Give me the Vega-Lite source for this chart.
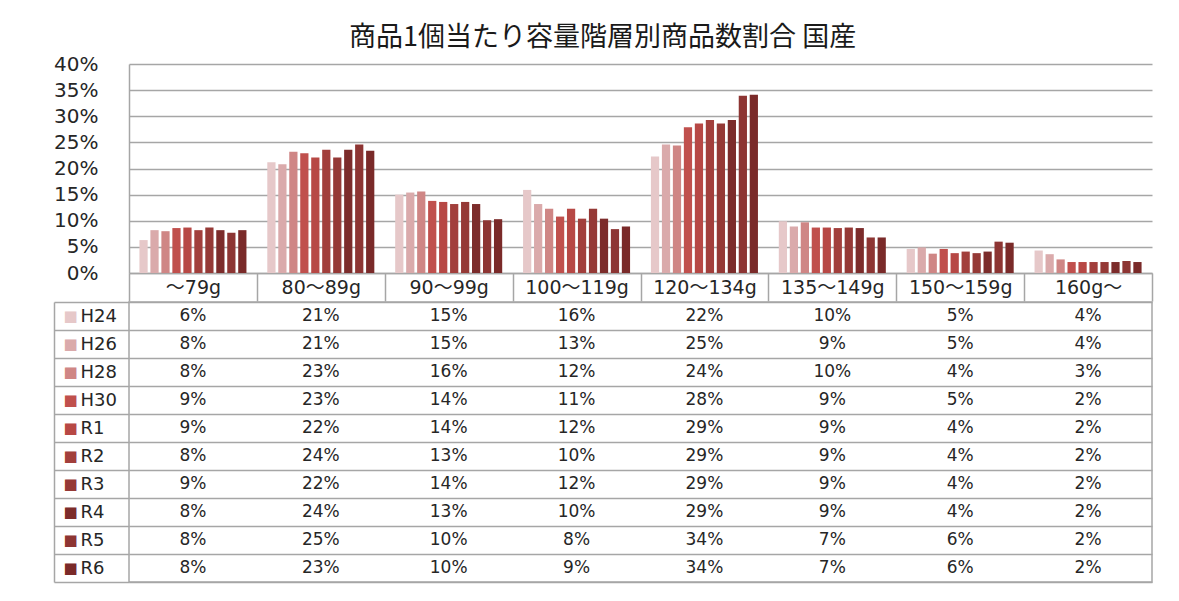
{
  "$schema": "https://vega.github.io/schema/vega-lite/v6.json",
  "background": "white",
  "padding": {"left": 52, "top": 24, "right": 29, "bottom": 10},
  "spacing": -10,
  "title": {
    "text": "商品1個当たり容量階層別商品数割合 国産",
    "font": "Noto Sans CJK JP",
    "fontSize": 27,
    "fontWeight": "normal",
    "color": "#1a1a1a",
    "anchor": "middle",
    "offset": 2
  },
  "data": {
    "values": [
      {"cat": "～79g", "period": "H24", "value": 0.063},
      {"cat": "～79g", "period": "H26", "value": 0.082},
      {"cat": "～79g", "period": "H28", "value": 0.080},
      {"cat": "～79g", "period": "H30", "value": 0.086},
      {"cat": "～79g", "period": "R1", "value": 0.087},
      {"cat": "～79g", "period": "R2", "value": 0.082},
      {"cat": "～79g", "period": "R3", "value": 0.087},
      {"cat": "～79g", "period": "R4", "value": 0.082},
      {"cat": "～79g", "period": "R5", "value": 0.077},
      {"cat": "～79g", "period": "R6", "value": 0.082},
      {"cat": "80～89g", "period": "H24", "value": 0.212},
      {"cat": "80～89g", "period": "H26", "value": 0.208},
      {"cat": "80～89g", "period": "H28", "value": 0.232},
      {"cat": "80～89g", "period": "H30", "value": 0.229},
      {"cat": "80～89g", "period": "R1", "value": 0.221},
      {"cat": "80～89g", "period": "R2", "value": 0.236},
      {"cat": "80～89g", "period": "R3", "value": 0.221},
      {"cat": "80～89g", "period": "R4", "value": 0.236},
      {"cat": "80～89g", "period": "R5", "value": 0.246},
      {"cat": "80～89g", "period": "R6", "value": 0.234},
      {"cat": "90～99g", "period": "H24", "value": 0.150},
      {"cat": "90～99g", "period": "H26", "value": 0.154},
      {"cat": "90～99g", "period": "H28", "value": 0.156},
      {"cat": "90～99g", "period": "H30", "value": 0.138},
      {"cat": "90～99g", "period": "R1", "value": 0.136},
      {"cat": "90～99g", "period": "R2", "value": 0.132},
      {"cat": "90～99g", "period": "R3", "value": 0.136},
      {"cat": "90～99g", "period": "R4", "value": 0.132},
      {"cat": "90～99g", "period": "R5", "value": 0.101},
      {"cat": "90～99g", "period": "R6", "value": 0.103},
      {"cat": "100～119g", "period": "H24", "value": 0.159},
      {"cat": "100～119g", "period": "H26", "value": 0.132},
      {"cat": "100～119g", "period": "H28", "value": 0.123},
      {"cat": "100～119g", "period": "H30", "value": 0.108},
      {"cat": "100～119g", "period": "R1", "value": 0.123},
      {"cat": "100～119g", "period": "R2", "value": 0.104},
      {"cat": "100～119g", "period": "R3", "value": 0.123},
      {"cat": "100～119g", "period": "R4", "value": 0.104},
      {"cat": "100～119g", "period": "R5", "value": 0.084},
      {"cat": "100～119g", "period": "R6", "value": 0.089},
      {"cat": "120～134g", "period": "H24", "value": 0.223},
      {"cat": "120～134g", "period": "H26", "value": 0.246},
      {"cat": "120～134g", "period": "H28", "value": 0.244},
      {"cat": "120～134g", "period": "H30", "value": 0.279},
      {"cat": "120～134g", "period": "R1", "value": 0.286},
      {"cat": "120～134g", "period": "R2", "value": 0.293},
      {"cat": "120～134g", "period": "R3", "value": 0.286},
      {"cat": "120～134g", "period": "R4", "value": 0.293},
      {"cat": "120～134g", "period": "R5", "value": 0.339},
      {"cat": "120～134g", "period": "R6", "value": 0.341},
      {"cat": "135～149g", "period": "H24", "value": 0.099},
      {"cat": "135～149g", "period": "H26", "value": 0.089},
      {"cat": "135～149g", "period": "H28", "value": 0.097},
      {"cat": "135～149g", "period": "H30", "value": 0.087},
      {"cat": "135～149g", "period": "R1", "value": 0.087},
      {"cat": "135～149g", "period": "R2", "value": 0.086},
      {"cat": "135～149g", "period": "R3", "value": 0.087},
      {"cat": "135～149g", "period": "R4", "value": 0.086},
      {"cat": "135～149g", "period": "R5", "value": 0.068},
      {"cat": "135～149g", "period": "R6", "value": 0.068},
      {"cat": "150～159g", "period": "H24", "value": 0.046},
      {"cat": "150～159g", "period": "H26", "value": 0.049},
      {"cat": "150～159g", "period": "H28", "value": 0.037},
      {"cat": "150～159g", "period": "H30", "value": 0.046},
      {"cat": "150～159g", "period": "R1", "value": 0.038},
      {"cat": "150～159g", "period": "R2", "value": 0.041},
      {"cat": "150～159g", "period": "R3", "value": 0.038},
      {"cat": "150～159g", "period": "R4", "value": 0.041},
      {"cat": "150～159g", "period": "R5", "value": 0.060},
      {"cat": "150～159g", "period": "R6", "value": 0.058},
      {"cat": "160g～", "period": "H24", "value": 0.043},
      {"cat": "160g～", "period": "H26", "value": 0.036},
      {"cat": "160g～", "period": "H28", "value": 0.026},
      {"cat": "160g～", "period": "H30", "value": 0.021},
      {"cat": "160g～", "period": "R1", "value": 0.021},
      {"cat": "160g～", "period": "R2", "value": 0.021},
      {"cat": "160g～", "period": "R3", "value": 0.021},
      {"cat": "160g～", "period": "R4", "value": 0.021},
      {"cat": "160g～", "period": "R5", "value": 0.023},
      {"cat": "160g～", "period": "R6", "value": 0.021}
    ]
  },
  "vconcat": [
    {
      "width": 1023,
      "height": 209,
      "view": {"stroke": null},
      "mark": {"type": "bar"},
      "encoding": {
        "x": {
          "field": "cat",
          "type": "nominal",
          "sort": ["～79g", "80～89g", "90～99g", "100～119g", "120～134g", "135～149g", "150～159g", "160g～"],
          "scale": {"paddingInner": 0, "paddingOuter": 0},
          "axis": {
            "title": null,
            "labelAngle": 0,
            "tickBand": "extent",
            "tickSize": 28,
            "tickColor": "#a6a6a6",
            "tickWidth": 1.5,
            "domainColor": "#a6a6a6",
            "domainWidth": 1.5,
            "labelPadding": -14,
            "labelBaseline": "middle",
            "labelFont": "DejaVu Sans, Noto Sans CJK JP",
            "labelFontSize": 19,
            "labelColor": "#262626",
            "minExtent": 28,
            "maxExtent": 28,
            "grid": false
          }
        },
        "xOffset": {
          "field": "period",
          "type": "nominal",
          "sort": ["H24", "H26", "H28", "H30", "R1", "R2", "R3", "R4", "R5", "R6"],
          "scale": {"paddingInner": 0.25, "paddingOuter": 0.95}
        },
        "y": {
          "field": "value",
          "type": "quantitative",
          "scale": {"domain": [0, 0.4]},
          "axis": {
            "title": null,
            "format": ".0%",
            "values": [0, 0.05, 0.1, 0.15, 0.2, 0.25, 0.3, 0.35, 0.4],
            "ticks": false,
            "labelPadding": 31,
            "labelFont": "DejaVu Sans",
            "labelFontSize": 20,
            "labelColor": "#262626",
            "domainColor": "#a6a6a6",
            "domainWidth": 1.5,
            "grid": true,
            "gridColor": "#a6a6a6",
            "gridWidth": 1.5
          }
        },
        "color": {
          "field": "period",
          "type": "nominal",
          "legend": null,
          "scale": {
            "domain": ["H24", "H26", "H28", "H30", "R1", "R2", "R3", "R4", "R5", "R6"],
            "range": ["#E6C8C9", "#DAAAAB", "#CF8685", "#C0504D", "#B74845", "#A23F3C", "#953936", "#7C2C2B", "#8D3533", "#7A2A29"]
          }
        }
      }
    },
    {
      "width": 1023,
      "height": 280,
      "view": {"stroke": "#a6a6a6", "strokeWidth": 1.5},
      "resolve": {"scale": {"y": "independent"}},
      "layer": [
        {
          "mark": {"type": "rect", "opacity": 0},
          "encoding": {
            "x": {
              "field": "cat",
              "type": "nominal",
              "sort": ["～79g", "80～89g", "90～99g", "100～119g", "120～134g", "135～149g", "150～159g", "160g～"],
              "scale": {"paddingInner": 0, "paddingOuter": 0},
              "axis": null
            },
            "y": {
              "field": "period",
              "type": "nominal",
              "sort": ["H24", "H26", "H28", "H30", "R1", "R2", "R3", "R4", "R5", "R6"],
              "scale": {"paddingInner": 0, "paddingOuter": 0},
              "axis": {
                "orient": "left",
                "offset": 75,
                "title": null,
                "ticks": false,
                "grid": false,
                "domain": true,
                "domainColor": "#a6a6a6",
                "domainWidth": 1.5,
                "labelExpr": "'■'",
                "labelAlign": "left",
                "labelPadding": -9,
                "labelFont": "DejaVu Sans",
                "labelFontSize": 15,
                "labelColor": {"expr": "datum.value=='H24'?'#E6C8C9':datum.value=='H26'?'#DAAAAB':datum.value=='H28'?'#CF8685':datum.value=='H30'?'#C0504D':datum.value=='R1'?'#B74845':datum.value=='R2'?'#A23F3C':datum.value=='R3'?'#953936':datum.value=='R4'?'#7C2C2B':datum.value=='R5'?'#8D3533':'#7A2A29'"}
              }
            }
          }
        },
        {
          "mark": {"type": "text", "font": "DejaVu Sans", "fontSize": 17, "color": "#262626"},
          "encoding": {
            "x": {
              "field": "cat",
              "type": "nominal",
              "sort": ["～79g", "80～89g", "90～99g", "100～119g", "120～134g", "135～149g", "150～159g", "160g～"],
              "scale": {"paddingInner": 0, "paddingOuter": 0},
              "axis": {
                "title": null,
                "labels": false,
                "ticks": false,
                "domain": false,
                "grid": true,
                "tickBand": "extent",
                "gridColor": "#a6a6a6",
                "gridWidth": 1.5,
                "maxExtent": 0,
                "minExtent": 0
              }
            },
            "y": {
              "field": "period",
              "type": "nominal",
              "sort": ["H24", "H26", "H28", "H30", "R1", "R2", "R3", "R4", "R5", "R6"],
              "scale": {"paddingInner": 0, "paddingOuter": 0},
              "axis": {
                "orient": "left",
                "title": null,
                "domain": false,
                "tickBand": "extent",
                "tickSize": 75,
                "tickColor": "#a6a6a6",
                "tickWidth": 1.5,
                "grid": true,
                "gridColor": "#a6a6a6",
                "gridWidth": 1.5,
                "labelAlign": "left",
                "labelPadding": -26,
                "labelFont": "DejaVu Sans",
                "labelFontSize": 18,
                "labelColor": "#262626"
              }
            },
            "text": {"field": "value", "type": "quantitative", "format": ".0%"}
          }
        }
      ]
    }
  ]
}
